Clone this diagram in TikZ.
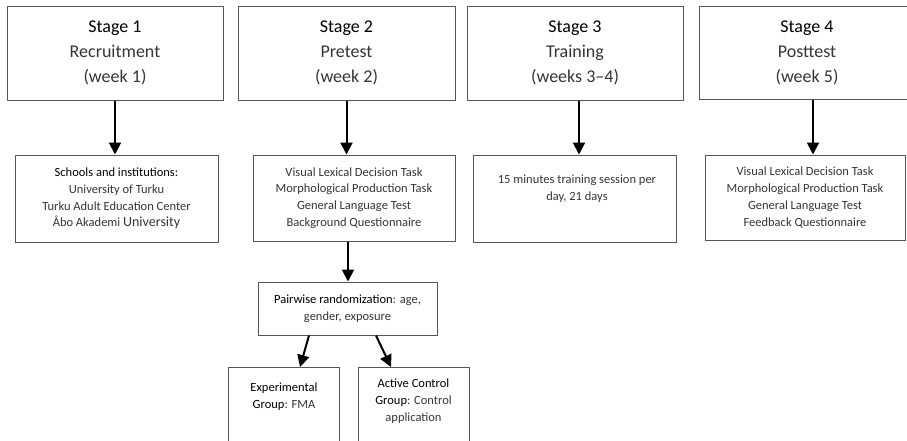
\documentclass[tikz,border=0pt]{standalone}
\usepackage{fontspec}
\setmainfont{Carlito}
\usetikzlibrary{arrows.meta,calc}
\definecolor{txt}{HTML}{353535}
\definecolor{frame}{HTML}{555555}
\begin{document}
\begin{tikzpicture}[x=1pt,y=-1pt,
 box/.style={draw=frame,line width=1pt,rectangle,inner sep=0pt},
 titletext/.style={font=\fontsize{18}{25}\selectfont,align=center,text=txt},
 detail/.style={font=\fontsize{12.5}{16.7}\selectfont,align=center,text=txt},
 arr/.style={line width=2pt,-{Triangle[length=12pt,width=12pt]}}]
\useasboundingbox (0,0) rectangle (907,440);
\clip (0,0) rectangle (907,440);
\fill[white] (0,0) rectangle (907,440);
% stage boxes
\node[box,minimum width=216pt,minimum height=94pt] (s1) at (115,53) {};
\node[box,minimum width=217pt,minimum height=94pt] (s2) at (346.5,53) {};
\node[box,minimum width=216pt,minimum height=94pt] (s3) at (575,53) {};
\node[box,minimum width=218pt,minimum height=93pt] (s4) at (808,52.5) {};
\node[titletext] (t1) at (s1.center) {\textcolor{black}{Stage 1}\\Recruitment\\(week 1)};
\node[titletext] (t2) at (s2.center) {\textcolor{black}{Stage 2}\\Pretest\\(week 2)};
\node[titletext] (t3) at (s3.center) {\textcolor{black}{Stage 3}\\Training\\(weeks 3–4)};
\node[titletext] (t4) at (807,52.5) {\textcolor{black}{Stage 4}\\Posttest\\(week 5)};
% detail boxes
\node[box,minimum width=203pt,minimum height=87pt] (d1) at (116.5,198.5) {};
\node[box,minimum width=202pt,minimum height=86pt] (d2) at (354,198) {};
\node[box,minimum width=203pt,minimum height=87pt] (d3) at (574.5,198.5) {};
\node[box,minimum width=200pt,minimum height=85pt] (d4) at (805,197.5) {};
\node[detail] (e1) at (d1.center) {\textcolor{black}{Schools and institutions:}\\University of Turku\\Turku Adult Education Center\\Åbo Akademi {\fontsize{14}{16.7}\selectfont University}};
\node[detail] (e2) at (d2.center) {Visual Lexical Decision Task\\Morphological Production Task\\General Language Test\\Background Questionnaire};
\node[detail] (e3) at (577,188.5) {15 minutes training session per\\day, 21 days};
\node[detail] (e4) at (d4.center) {Visual Lexical Decision Task\\Morphological Production Task\\General Language Test\\Feedback Questionnaire};
% randomization
\node[box,minimum width=179pt,minimum height=53pt] (pr) at (347.5,308.5) {};
\node[detail] (prt) at (pr.center) {\textcolor{black}{Pairwise randomization}: age,\\gender, exposure};
\node[box,minimum width=111pt,minimum height=100pt,anchor=north] (eg) at (283.5,367) {};
\node[box,minimum width=111pt,minimum height=100pt,anchor=north] (ac) at (413.5,367) {};
\node[detail] (egt) at (284,396.5) {\textcolor{black}{Experimental}\\\textcolor{black}{Group}: FMA};
\node[detail] (act) at (413.5,401) {\textcolor{black}{Active Control}\\\textcolor{black}{Group}: Control\\application};
% arrows
\draw[arr] (s1.south) -- (s1.south |- d1.north);
\draw[arr] (s2.south) -- (s2.south |- d2.north);
\draw[arr] ([xshift=4pt]s3.south) -- ([xshift=4pt]s3.south |- d3.north);
\draw[arr] ([xshift=5pt]s4.south) -- ([xshift=5pt]s4.south |- d4.north);
\draw[arr] ([xshift=1.5pt]s2.south |- d2.south) -- ([xshift=1.5pt]s2.south |- pr.north);
\draw[arr] ([xshift=-38.5pt]pr.south) -- ([xshift=16.5pt]eg.north);
\draw[arr] ([xshift=28.5pt]pr.south) -- ([xshift=-22.5pt]ac.north);
\end{tikzpicture}
\end{document}
